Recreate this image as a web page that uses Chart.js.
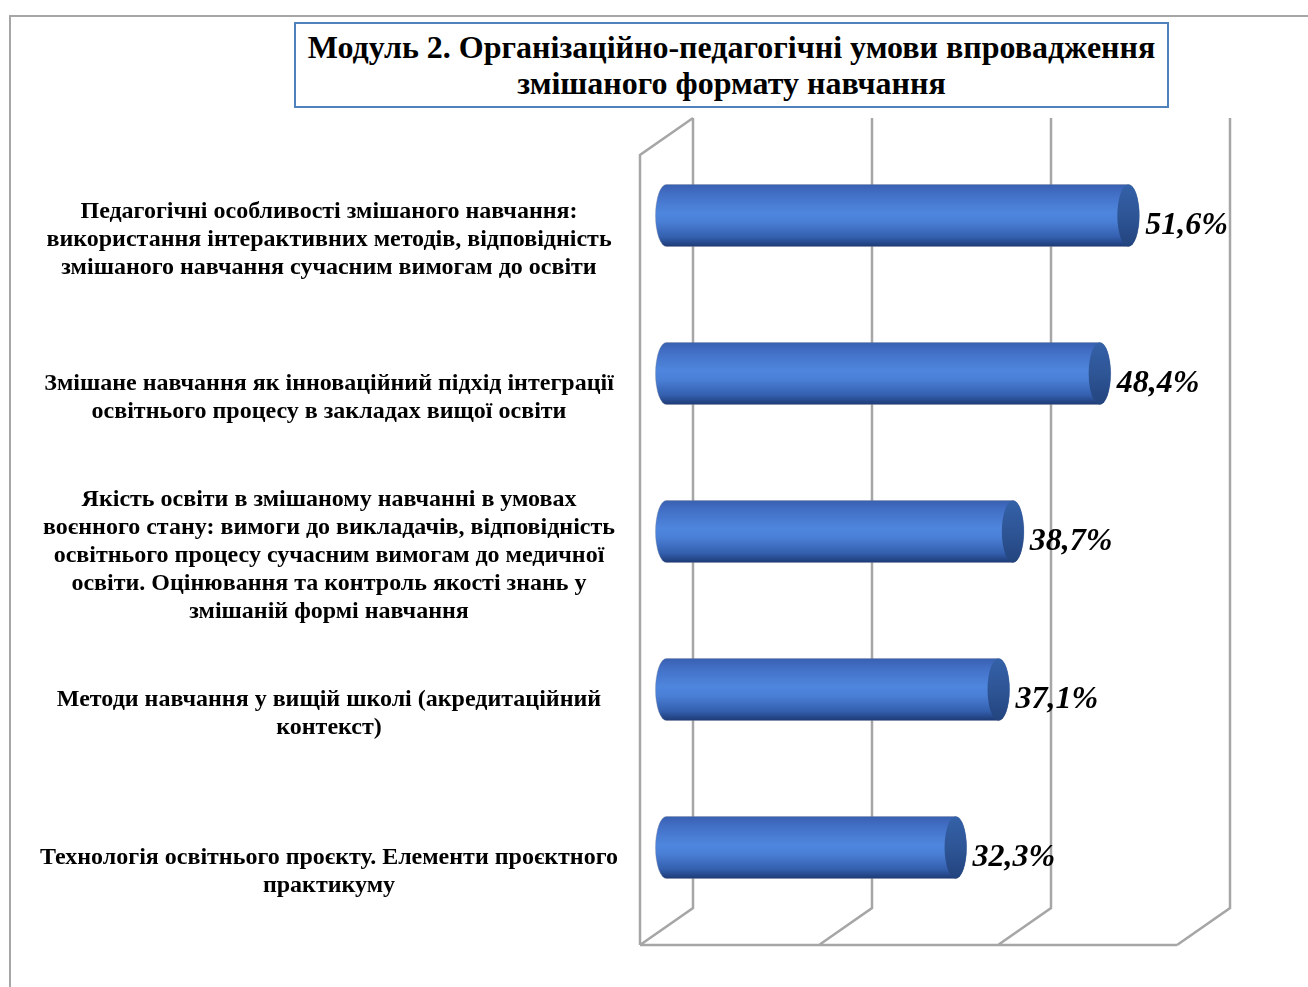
<!DOCTYPE html>
<html lang="uk">
<head>
<meta charset="UTF-8">
<title>Модуль 2</title>
<script src="https://cdn.jsdelivr.net/npm/chart.js"></script>
<style>
  body { margin: 0; background: #fff; }
  .wrap { position: relative; width: 1308px; height: 987px; }
  .frame {
    position: absolute; left: 9px; top: 15px; right: -2px; bottom: -2px;
    border-left: 2px solid #a6a6a6; border-top: 2px solid #a6a6a6;
  }
  .title {
    position: absolute; left: 294px; top: 22px; width: 871px; height: 77px;
    border: 2px solid #4f81bd; background: #fff;
    font: bold 32px "Liberation Serif", "Times New Roman", serif;
    line-height: 36px; text-align: center; padding-top: 5px; color: #000;
  }
  canvas { position: absolute; left: 0; top: 0; }
</style>
</head>
<body>
<div class="wrap">
  <div class="frame"></div>
  <canvas id="chart" width="1308" height="987"></canvas>
  <div class="title">Модуль 2. Організаційно-педагогічні умови впровадження<br>змішаного формату навчання</div>
</div>
<script>
// категорії (рядки як на рисунку)
const categories = [
  ['Педагогічні особливості змішаного навчання:', 'використання інтерактивних методів, відповідність', 'змішаного навчання сучасним вимогам до освіти'],
  ['Змішане навчання як інноваційний підхід інтеграції', 'освітнього процесу в закладах вищої освіти'],
  ['Якість освіти в змішаному навчанні в умовах', 'воєнного стану: вимоги до викладачів, відповідність', 'освітнього процесу сучасним вимогам до медичної', 'освіти. Оцінювання та контроль якості знань у', 'змішаній формі навчання'],
  ['Методи навчання у вищій школі (акредитаційний', 'контекст)'],
  ['Технологія освітнього проєкту. Елементи проєктного', 'практикуму']
];
const values = [51.6, 48.4, 38.7, 37.1, 32.3];
const xTicks = [0, 20, 40, 60];

// глибина 3D
const DX = 53, DY = -37;

const frame3d = {
  id: 'frame3d',
  afterLayout(chart) {
    // підписи категорій трохи нижче центру, як в оригіналі
    chart.scales.y.getLabelItems().forEach(it => { it.textOffset += 6; });
  },
  beforeDatasetsDraw(chart) {
    const { ctx, chartArea: a, scales: { x } } = chart;
    ctx.save();
    ctx.strokeStyle = '#a6a6a6';
    ctx.lineWidth = 2.5;
    ctx.beginPath();
    // ліва стінка
    ctx.moveTo(a.left, a.bottom);
    ctx.lineTo(a.left, a.top);
    ctx.lineTo(a.left + DX, a.top + DY);
    // підлога
    ctx.moveTo(a.left, a.bottom);
    ctx.lineTo(a.right, a.bottom);
    xTicks.forEach(t => {
      const px = x.getPixelForValue(t);
      ctx.moveTo(px, a.bottom);
      ctx.lineTo(px + DX, a.bottom + DY);
      ctx.lineTo(px + DX, a.top + DY);
    });
    ctx.stroke();
    ctx.restore();
  }
};

const cylinders = {
  id: 'cylinders',
  afterDatasetsDraw(chart) {
    const { ctx } = chart;
    const meta = chart.getDatasetMeta(0);
    const rx = 11;
    ctx.save();
    meta.data.forEach((bar, i) => {
      const p = bar.getProps(['x', 'y', 'base', 'height'], true);
      const x0 = p.base + DX / 2, x1 = p.x + DX / 2;
      const cy = p.y + DY / 2, ry = p.height / 2;
      const top = cy - ry, bot = cy + ry;

      const g = ctx.createLinearGradient(0, top, 0, bot);
      g.addColorStop(0, '#3960b0');
      g.addColorStop(0.15, '#426fc6');
      g.addColorStop(0.45, '#4f86dd');
      g.addColorStop(0.6, '#4a7fd6');
      g.addColorStop(0.85, '#345fae');
      g.addColorStop(1, '#1d3a75');

      ctx.beginPath();
      ctx.moveTo(x0, top);
      ctx.lineTo(x1, top);
      ctx.ellipse(x1, cy, rx, ry, 0, -Math.PI / 2, Math.PI / 2);
      ctx.lineTo(x0, bot);
      ctx.ellipse(x0, cy, rx, ry, 0, Math.PI / 2, Math.PI * 1.5);
      ctx.closePath();
      ctx.fillStyle = g;
      ctx.fill();
      ctx.strokeStyle = 'rgba(120,130,150,0.35)';
      ctx.lineWidth = 1;
      ctx.stroke();

      const gc = ctx.createLinearGradient(0, top, 0, bot);
      gc.addColorStop(0, '#3461a8');
      gc.addColorStop(0.5, '#2e5596');
      gc.addColorStop(1, '#23447e');
      ctx.beginPath();
      ctx.ellipse(x1, cy, rx, ry, 0, 0, Math.PI * 2);
      ctx.fillStyle = gc;
      ctx.fill();

      // підпис значення
      ctx.fillStyle = '#000';
      ctx.font = 'italic bold 32px "Liberation Serif", "Times New Roman", serif';
      ctx.textAlign = 'left';
      ctx.textBaseline = 'middle';
      ctx.fillText(values[i].toFixed(1).replace('.', ',') + '%', x1 + 17, cy + 10);
    });
    ctx.restore();
  }
};

new Chart(document.getElementById('chart'), {
  type: 'bar',
  data: {
    labels: categories,
    datasets: [{
      data: values,
      backgroundColor: 'rgba(0,0,0,0)',
      borderWidth: 0,
      barThickness: 62
    }]
  },
  options: {
    indexAxis: 'y',
    responsive: false,
    animation: false,
    layout: { padding: { left: 0, right: 131, top: 155, bottom: 42 } },
    plugins: { legend: { display: false }, tooltip: { enabled: false }, title: { display: false } },
    scales: {
      x: { display: false, min: 0, max: 60 },
      y: {
        afterFit(scale) {
          scale.width = 640;
          scale.paddingTop = 0;
          scale.paddingBottom = 0;
        },
        grid: { display: false, drawTicks: false },
        border: { display: false },
        ticks: {
          crossAlign: 'center',
          padding: 22,
          color: '#000',
          font: { family: '"Liberation Serif", "Times New Roman", serif', size: 24, weight: 'bold', lineHeight: 1.167 }
        }
      }
    }
  },
  plugins: [frame3d, cylinders]
});
</script>
</body>
</html>
